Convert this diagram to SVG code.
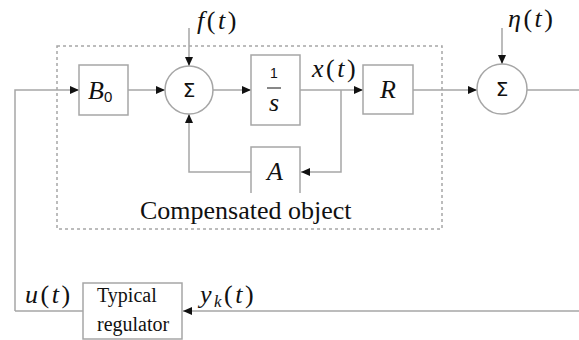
<svg xmlns="http://www.w3.org/2000/svg" width="579" height="340" viewBox="0 0 579 340">
<defs>
<marker id="ah" markerWidth="9" markerHeight="8" refX="9" refY="4" orient="auto" markerUnits="userSpaceOnUse"><path d="M0,0 L9,4 L0,8 Z" fill="#111"/></marker>
<style>
.ln{fill:none;stroke:#a6a6a6;stroke-width:1.5}
.bx{fill:#fff;stroke:#a6a6a6;stroke-width:1.5}
.dash{fill:none;stroke:#a6a6a6;stroke-width:1.5;stroke-dasharray:3,3}
.m{font-family:'Liberation Serif','DejaVu Serif',serif;font-style:italic;font-size:26px;fill:#111}
.lb{letter-spacing:2.5px}
.mu{font-style:normal}
.t{font-family:'Liberation Serif','DejaVu Serif',serif;fill:#111}
.sg{font-family:'DejaVu Sans','Liberation Sans',sans-serif;font-size:20px;fill:#111;text-anchor:middle}
</style>
</defs>
<rect class="dash" x="57" y="46" width="385" height="183"/>
<g id="connectors">
<path class="ln" d="M15,311 V90 H79" marker-end="url(#ah)"/>
<path class="ln" d="M128,90 H165" marker-end="url(#ah)"/>
<path class="ln" d="M189,28 V66" marker-end="url(#ah)"/>
<path class="ln" d="M213,90 H251" marker-end="url(#ah)"/>
<path class="ln" d="M300,90 H363" marker-end="url(#ah)"/>
<path class="ln" d="M341,90 V172 H301" marker-end="url(#ah)"/>
<path class="ln" d="M251,172 H189 V114" marker-end="url(#ah)"/>
<path class="ln" d="M413,90 H477" marker-end="url(#ah)"/>
<path class="ln" d="M502,28 V64" marker-end="url(#ah)"/>
<path class="ln" d="M527,90 H579"/>
<path class="ln" d="M579,311 H183" marker-end="url(#ah)"/>
<path class="ln" d="M15,311 H83"/>
</g>
<g id="B0"><rect class="bx" x="79" y="65" width="49" height="50"/><text class="m" x="88" y="99">B<tspan class="mu" font-family="Liberation Sans,sans-serif" font-size="15" dy="3">0</tspan></text></g>
<g id="sum1"><circle class="bx" cx="189" cy="90" r="24"/><text class="sg" x="189" y="97">Σ</text></g>
<g id="integrator"><rect class="bx" x="251" y="55" width="49" height="70"/><text x="274" y="78" font-family="Liberation Sans,sans-serif" font-size="14" text-anchor="middle" fill="#111">1</text><line x1="267" y1="88" x2="281" y2="88" stroke="#111" stroke-width="1"/><text class="m" x="274" y="111" text-anchor="middle">s</text></g>
<g id="A"><path class="bx" d="M251,193 V147 H300 V193"/><text class="m" x="275" y="180" text-anchor="middle">A</text></g>
<g id="R"><rect class="bx" x="363" y="65" width="50" height="49"/><text class="m" x="388" y="98" text-anchor="middle">R</text></g>
<g id="sum2"><circle class="bx" cx="502" cy="89" r="25"/><text class="sg" x="502" y="96">Σ</text></g>
<g id="regulator"><rect class="bx" x="83" y="283" width="99" height="56"/><text class="t" font-size="20" x="97" y="302">Typical</text><text class="t" font-size="20" x="97" y="331">regulator</text></g>
<text class="m lb" x="197" y="29">f<tspan class="mu">(</tspan>t<tspan class="mu">)</tspan></text>
<text class="m lb" x="508" y="27">η<tspan class="mu">(</tspan>t<tspan class="mu">)</tspan></text>
<text class="m lb" x="312" y="77">x<tspan class="mu">(</tspan>t<tspan class="mu">)</tspan></text>
<text class="m lb" x="25" y="303">u<tspan class="mu">(</tspan>t<tspan class="mu">)</tspan></text>
<text class="m lb" x="200" y="303">y<tspan font-size="17" dy="4">k</tspan><tspan class="mu" dy="-4">(</tspan>t<tspan class="mu">)</tspan></text>
<text class="t" font-size="26" x="140" y="219">Compensated object</text>
</svg>
